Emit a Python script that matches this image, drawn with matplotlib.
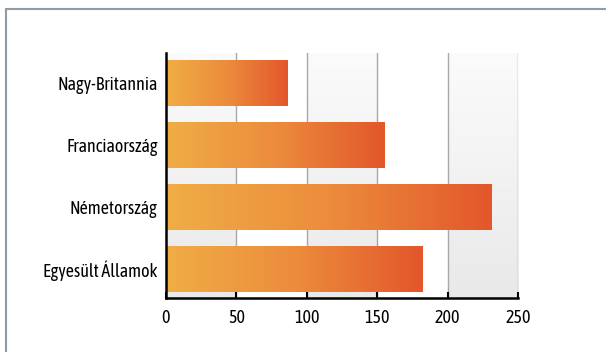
import numpy as np
import matplotlib.pyplot as plt
from matplotlib.patches import Rectangle
from matplotlib.colors import LinearSegmentedColormap

plt.rcParams['font.family'] = ['Asap Condensed', 'Liberation Sans Narrow', 'DejaVu Sans']

countries = ['Egyesült Államok', 'Németország', 'Franciaország', 'Nagy-Britannia']
values = [182, 231, 155, 86]
xticks = [0, 50, 100, 150, 200, 250]

bar_cmap = LinearSegmentedColormap.from_list('bar', ['#f0ad45', '#ec8c3c', '#e3572b'])
band_cmap = LinearSegmentedColormap.from_list('band', ['#fbfbfb', '#e9e9e9'])

fig = plt.figure(figsize=(6.06, 3.52), dpi=100)
fig.patches.append(Rectangle((6 / 606, -0.1), 1.2, (352 - 9) / 352 + 0.1,
                             transform=fig.transFigure, fill=False,
                             edgecolor='#8d9ca6', linewidth=1.5))

ax = fig.add_axes([166 / 606, (352 - 298) / 352, (518 - 166) / 606, (298 - 53) / 352])

# alternating shaded bands between gridlines
grad_v = np.linspace(0, 1, 100).reshape(-1, 1)
for x0 in xticks[:-1:2]:
    ax.imshow(grad_v, cmap=band_cmap, aspect='auto', origin='upper',
              extent=(x0, x0 + 50, -0.47, 3.48), zorder=0)
for x in xticks[1:]:
    ax.axvline(x, color='#a8a8a8', linewidth=1, zorder=1)

# bars with horizontal orange gradient
grad_h = np.linspace(0, 1, 200).reshape(1, -1)
h = 0.74
for i, v in enumerate(values):
    ax.imshow(grad_h, cmap=bar_cmap, aspect='auto',
              extent=(0, v, i - h / 2, i + h / 2), zorder=2)

ax.set_xlim(0, 250)
ax.set_ylim(-0.47, 3.48)
ax.set_yticks(range(len(countries)))
ax.set_yticklabels(countries, fontsize=13)
ax.set_xticks(xticks)
ax.set_xticklabels([str(t) for t in xticks], fontsize=13)
ax.tick_params(axis='y', length=0, pad=6)
ax.tick_params(axis='x', direction='in', length=4, width=1.5, pad=8)

for s in ['top', 'right']:
    ax.spines[s].set_visible(False)
for s in ['left', 'bottom']:
    ax.spines[s].set_linewidth(1.8)
    ax.spines[s].set_zorder(3)

fig.savefig('out.png', dpi=100)
